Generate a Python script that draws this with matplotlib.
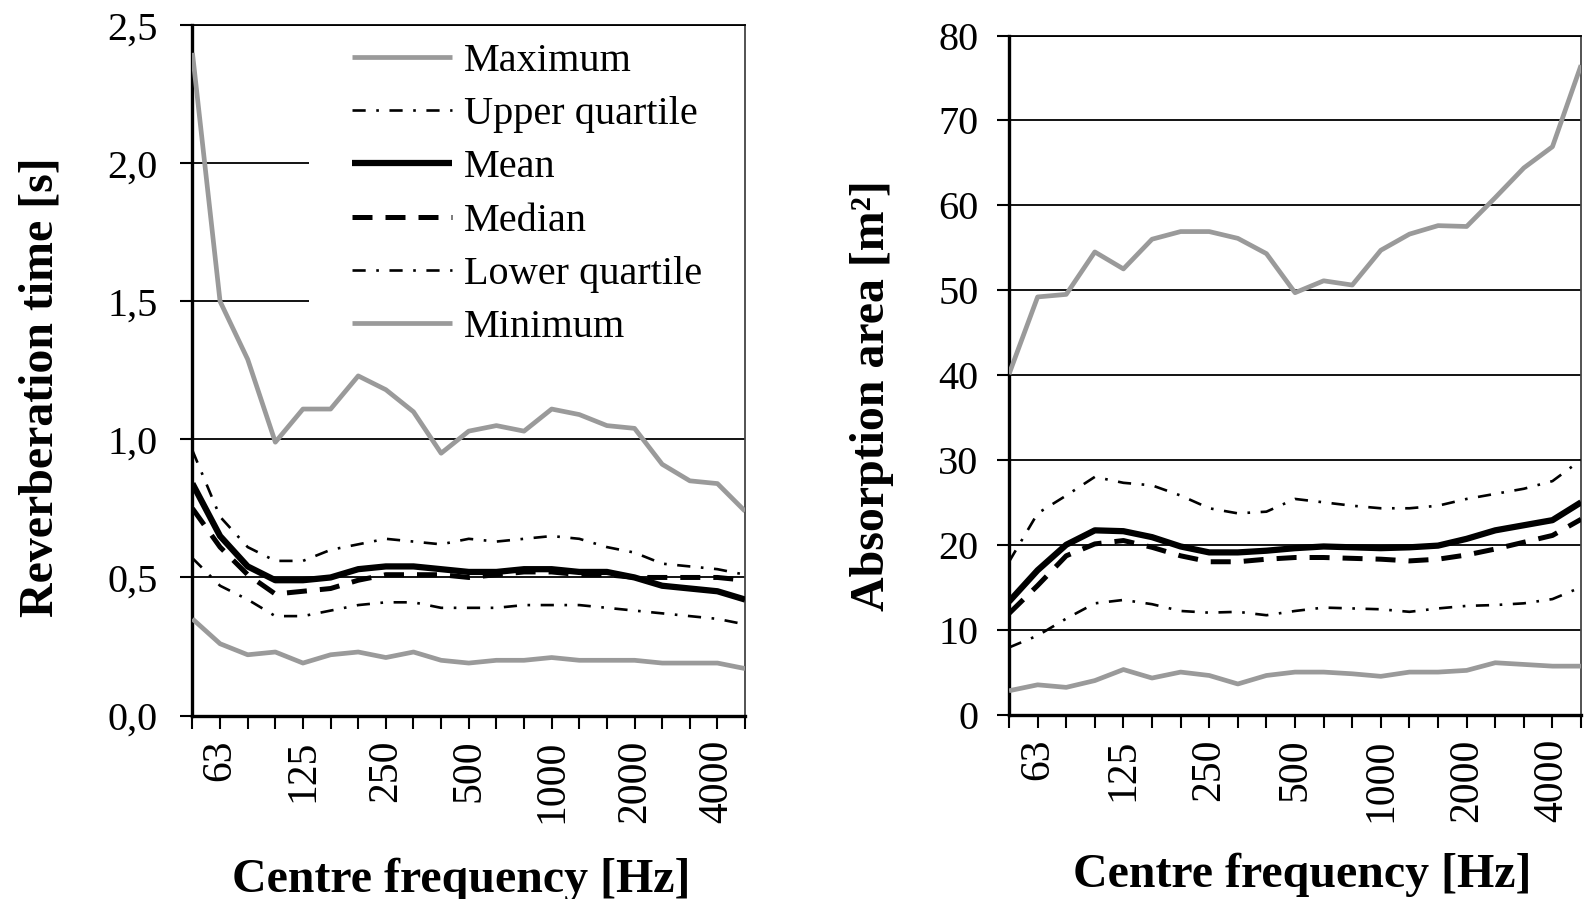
import matplotlib
matplotlib.use("Agg")
import matplotlib.pyplot as plt
from matplotlib.patches import Rectangle
import numpy as np

plt.rcParams['font.family'] = ['Liberation Serif', 'DejaVu Serif']

# Third-octave band centre frequencies [Hz]
freqs = [50, 63, 80, 100, 125, 160, 200, 250, 315, 400, 500, 630, 800,
         1000, 1250, 1600, 2000, 2500, 3150, 4000, 5000]
labelled = [63, 125, 250, 500, 1000, 2000, 4000]

# Reverberation time [s]
rt_max = [2.40, 1.50, 1.29, 0.99, 1.11, 1.11, 1.23, 1.18, 1.10, 0.95, 1.03,
          1.05, 1.03, 1.11, 1.09, 1.05, 1.04, 0.91, 0.85, 0.84, 0.74]
rt_uq = [0.96, 0.72, 0.61, 0.56, 0.56, 0.60, 0.62, 0.64, 0.63, 0.62, 0.64,
         0.63, 0.64, 0.65, 0.64, 0.61, 0.59, 0.55, 0.54, 0.53, 0.51]
rt_mean = [0.84, 0.65, 0.54, 0.49, 0.49, 0.50, 0.53, 0.54, 0.54, 0.53, 0.52,
           0.52, 0.53, 0.53, 0.52, 0.52, 0.50, 0.47, 0.46, 0.45, 0.42]
rt_median = [0.75, 0.61, 0.51, 0.44, 0.45, 0.46, 0.49, 0.51, 0.51, 0.51, 0.50,
             0.51, 0.52, 0.52, 0.51, 0.51, 0.50, 0.50, 0.50, 0.50, 0.49]
rt_lq = [0.57, 0.47, 0.42, 0.36, 0.36, 0.38, 0.40, 0.41, 0.41, 0.39, 0.39,
         0.39, 0.40, 0.40, 0.40, 0.39, 0.38, 0.37, 0.36, 0.35, 0.33]
rt_min = [0.35, 0.26, 0.22, 0.23, 0.19, 0.22, 0.23, 0.21, 0.23, 0.20, 0.19,
          0.20, 0.20, 0.21, 0.20, 0.20, 0.20, 0.19, 0.19, 0.19, 0.17]

# Absorption area [m2]
aa_max = [40.1, 49.2, 49.5, 54.5, 52.5, 56.0, 56.9, 56.9, 56.1, 54.3, 49.7,
          51.1, 50.6, 54.7, 56.6, 57.6, 57.5, 60.9, 64.4, 66.9, 76.5]
aa_uq = [18.0, 23.7, 25.8, 28.0, 27.3, 27.0, 25.8, 24.3, 23.7, 23.9, 25.4,
         25.0, 24.6, 24.3, 24.3, 24.6, 25.4, 26.0, 26.6, 27.5, 30.0]
aa_mean = [13.3, 17.0, 20.0, 21.7, 21.6, 20.9, 19.8, 19.1, 19.1, 19.3, 19.6,
           19.8, 19.7, 19.6, 19.7, 19.9, 20.7, 21.7, 22.3, 22.9, 25.0]
aa_median = [11.9, 15.2, 18.7, 20.1, 20.5, 19.7, 18.7, 18.0, 18.0, 18.3, 18.5,
             18.5, 18.4, 18.3, 18.1, 18.3, 18.8, 19.5, 20.3, 21.1, 23.0]
aa_lq = [7.9, 9.3, 11.3, 13.1, 13.5, 13.0, 12.2, 12.0, 12.1, 11.7, 12.2,
         12.6, 12.5, 12.4, 12.1, 12.5, 12.8, 12.9, 13.1, 13.6, 15.0]
aa_min = [2.8, 3.5, 3.2, 4.0, 5.3, 4.3, 5.0, 4.6, 3.6, 4.6, 5.0,
          5.0, 4.8, 4.5, 5.0, 5.0, 5.2, 6.1, 5.9, 5.7, 5.7]

GREY = '#9a9a9a'
FS = 29
TICKFS_X = 30
LABFS = 34.5

styles = {
    'Maximum': dict(color=GREY, lw=3.4, ls='-'),
    'Upper quartile': dict(color='black', lw=1.9, dashes=(5, 4, 1, 4)),
    'Mean': dict(color='black', lw=4.5, ls='-'),
    'Median': dict(color='black', lw=3.6, dashes=(4, 2.6)),
    'Lower quartile': dict(color='black', lw=1.9, dashes=(5, 4, 1, 4)),
    'Minimum': dict(color=GREY, lw=3.4, ls='-'),
}

fig = plt.figure(figsize=(15.89, 8.99), dpi=100)
ax1 = fig.add_axes([0.1211, 0.2041, 0.4689 - 0.1211, 0.9719 - 0.2041])
ax2 = fig.add_axes([0.6350, 0.2052, 0.9950 - 0.6350, 0.9605 - 0.2052])

x = np.arange(len(freqs))


def style_axes(ax, ylim, yticks, yfmt, ypad):
    ax.set_xlim(0, len(freqs) - 1)
    ax.set_ylim(*ylim)
    ax.set_axisbelow(True)
    ax.yaxis.grid(True, color='black', lw=1.3, zorder=0.5)
    ax.set_yticks(yticks)
    ax.set_yticklabels([yfmt(v) for v in yticks], fontsize=FS)
    ax.set_xticks(x)
    ax.set_xticklabels([str(f) if f in labelled else '' for f in freqs],
                       rotation=90, fontsize=TICKFS_X)
    ax.tick_params(axis='y', direction='out', length=9, width=1.5, pad=ypad)
    ax.tick_params(axis='x', direction='out', length=9, width=1.5, pad=8)
    for s in ('left', 'bottom'):
        ax.spines[s].set_linewidth(2.4)
    ax.spines['right'].set_linewidth(1.3)
    ax.spines['top'].set_linewidth(1.3)
    ax.spines['right'].set_color('#444444')
    ax.set_xlabel('Centre frequency [Hz]', fontsize=LABFS, fontweight='bold')


def draw(ax, series):
    handles = []
    for name, vals in series:
        h, = ax.plot(x, vals, label=name, zorder=3, solid_capstyle='butt',
                     dash_capstyle='butt', **styles[name])
        handles.append(h)
    return handles


handles = draw(ax1, [('Maximum', rt_max), ('Upper quartile', rt_uq),
                     ('Mean', rt_mean), ('Median', rt_median),
                     ('Lower quartile', rt_lq), ('Minimum', rt_min)])
draw(ax2, [('Maximum', aa_max), ('Upper quartile', aa_uq),
           ('Mean', aa_mean), ('Median', aa_median),
           ('Lower quartile', aa_lq), ('Minimum', aa_min)])

style_axes(ax1, (0, 2.5), [0, 0.5, 1.0, 1.5, 2.0, 2.5],
           lambda v: f"{v:.1f}".replace('.', ','), 16)
style_axes(ax2, (0, 80), list(range(0, 81, 10)), lambda v: f"{v:d}", 13)

ax1.set_ylabel('Reverberation time [s]', fontsize=LABFS, fontweight='bold')
ax2.set_ylabel('Absorption area [m²]', fontsize=LABFS, fontweight='bold')
ax1.yaxis.set_label_coords(-0.235, 0.476)
ax2.yaxis.set_label_coords(-0.201, 0.47)
ax1.xaxis.set_label_coords(0.486, -0.206)
ax2.xaxis.set_label_coords(0.512, -0.204)

# white backing behind the legend (hides gridlines there)
ax1.add_patch(Rectangle((0.211, 0.53), 0.789, 0.458, transform=ax1.transAxes,
                        facecolor='white', edgecolor='none', zorder=1))
leg = ax1.legend(handles=handles, loc='upper left',
                 bbox_to_anchor=(0.288, 0.975), frameon=False, fontsize=FS,
                 handlelength=2.5, handletextpad=0.3, labelspacing=0.40,
                 borderpad=0, borderaxespad=0)

fig.savefig('out.png', dpi=100)
